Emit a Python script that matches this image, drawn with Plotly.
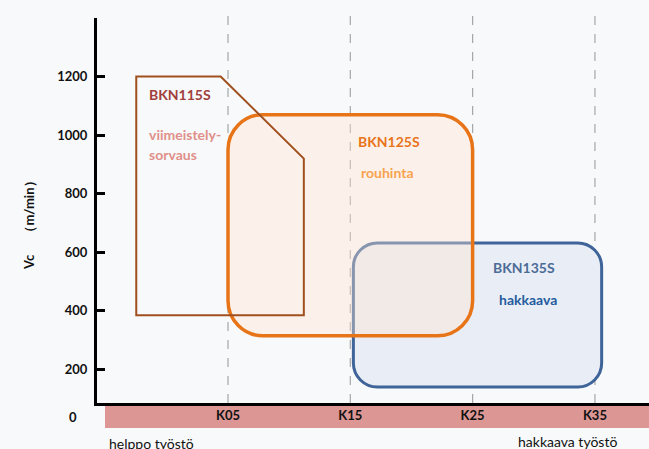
import plotly.graph_objects as go

# cemented carbide grades on the x axis, cutting speed Vc (m/min) on the y axis
grade_ticks = [5, 15, 25, 35]
grade_labels = ["K05", "K15", "K25", "K35"]
vc_ticks = [200, 400, 600, 800, 1000, 1200, 1400]
vc_labels = ["200", "400", "600", "800", "1000", "1200", ""]

# BKN115S application area (cut corner polygon)
bkn115_x = [-2.5, 4.4, 11.2, 11.2, -2.5]
bkn115_y = [1200, 1200, 920, 385, 385]
# BKN125S and BKN135S areas (x from/to, y from/to)
bkn125_x = [5, 25]
bkn125_y = [315, 1070]
bkn135_x = [15.25, 35.55]
bkn135_y = [140, 632]

FONT = "Lato"
W, H = 649, 449
ML, MR, MT, MB = 97, 0, 18, 46
X_RANGE = [-5.71, 39.42]
Y_RANGE = [85.5, 1400]

PW, PH = W - ML - MR, H - MT - MB
px_x = PW / (X_RANGE[1] - X_RANGE[0])
px_y = PH / (Y_RANGE[1] - Y_RANGE[0])


def page_x(px):
    return (px - ML) / PW


def page_y(py):
    return (H - MB - py) / PH


def rounded_box(xs, ys, r_px):
    x0, x1 = xs
    y0, y1 = ys
    rx = r_px / px_x
    ry = r_px / px_y
    k = 0.5523
    return (
        f"M {x0 + rx},{y0} L {x1 - rx},{y0} "
        f"C {x1 - rx + k * rx},{y0} {x1},{y0 + ry - k * ry} {x1},{y0 + ry} "
        f"L {x1},{y1 - ry} "
        f"C {x1},{y1 - ry + k * ry} {x1 - rx + k * rx},{y1} {x1 - rx},{y1} "
        f"L {x0 + rx},{y1} "
        f"C {x0 + rx - k * rx},{y1} {x0},{y1 - ry + k * ry} {x0},{y1 - ry} "
        f"L {x0},{y0 + ry} "
        f"C {x0},{y0 + ry - k * ry} {x0 + rx - k * rx},{y0} {x0 + rx},{y0} Z"
    )


def polygon(xs, ys):
    pts = " L ".join(f"{x},{y}" for x, y in zip(xs, ys))
    return f"M {pts} Z"


fig = go.Figure()
fig.add_trace(go.Scatter(x=[], y=[], showlegend=False))

shapes = []
# pink band under the x axis
shapes.append(dict(type="rect", xref="paper", yref="paper", x0=page_x(105), x1=1,
                   y0=page_y(405), y1=page_y(428), fillcolor="#DC9694", line_width=0, layer="below"))
for g in grade_ticks:
    shapes.append(dict(type="line", xref="x", yref="paper", x0=g, x1=g, y0=0, y1=page_y(14),
                       line=dict(color="#A6A6A6", width=1.2, dash="dash"), layer="below"))

shapes.append(dict(type="path", xref="x", yref="y", path=rounded_box(bkn135_x, bkn135_y, 24),
                   fillcolor="#E9EEF6", line=dict(color="#3E6499", width=3)))
shapes.append(dict(type="path", xref="x", yref="y", path=rounded_box(bkn125_x, bkn125_y, 35),
                   fillcolor="rgba(255,228,208,0.38)", line=dict(color="#E87418", width=3.5)))
shapes.append(dict(type="path", xref="x", yref="y", path=polygon(bkn115_x, bkn115_y),
                   fillcolor="rgba(0,0,0,0)", line=dict(color="#A0501E", width=2)))

annotations = []


def label(x, y, text, color, size=14, bold=True):
    annotations.append(dict(x=x, y=y, xref="x", yref="y", text=text, showarrow=False,
                            xanchor="left", yanchor="middle",
                            font=dict(family=FONT, size=size, color=color,
                                      weight="bold" if bold else "normal")))


def page_text(px, py, text, size, bold=False, anchor="center", angle=0):
    annotations.append(dict(x=page_x(px), y=page_y(py), xref="paper", yref="paper",
                            text=text, showarrow=False, xanchor=anchor, yanchor="middle",
                            textangle=angle,
                            font=dict(family=FONT, size=size, color="#111",
                                      weight="bold" if bold else "normal")))


label(-1.62, 1138, "BKN115S", "#A0403C")
label(-1.62, 1002, "viimeistely-", "#E0908A")
label(-1.62, 933, "sorvaus", "#E0908A")
label(15.47, 978, "BKN125S", "#E8741C")
label(15.71, 872, "rouhinta", "#F7A350")
label(26.5, 547, "BKN135S", "#4C6B97")
label(27.0, 438, "hakkaava", "#245B9E")

page_text(73, 417, "0", 13, bold=True)
page_text(29, 222, "Vc　 （m/min）", 13, bold=True, angle=-90)
page_text(107, 444, "helppo työstö", 14, anchor="left")
page_text(567, 441, "hakkaava työstö", 14)

fig.update_layout(
    width=W, height=H,
    margin=dict(l=ML, r=MR, t=MT, b=MB),
    paper_bgcolor="#F8F9FA", plot_bgcolor="#F8F9FA",
    showlegend=False,
    shapes=shapes,
    annotations=annotations,
    xaxis=dict(range=X_RANGE, tickvals=grade_ticks, ticktext=grade_labels,
               showline=True, linecolor="black", linewidth=3, ticks="",
               showgrid=False, zeroline=False, ticklabelstandoff=-2,
               tickfont=dict(family=FONT, size=13, color="#111", weight="bold")),
    yaxis=dict(range=Y_RANGE, tickvals=vc_ticks, ticktext=vc_labels,
               showline=True, linecolor="black", linewidth=3,
               ticks="inside", ticklen=8, tickwidth=3, tickcolor="black",
               showgrid=False, zeroline=False, ticklabelstandoff=4,
               tickfont=dict(family=FONT, size=13, color="#111", weight="bold")),
)

fig.write_html("out.html", config={"displayModeBar": False},
               post_script="document.body.style.margin='0';document.body.style.overflow='hidden';")
